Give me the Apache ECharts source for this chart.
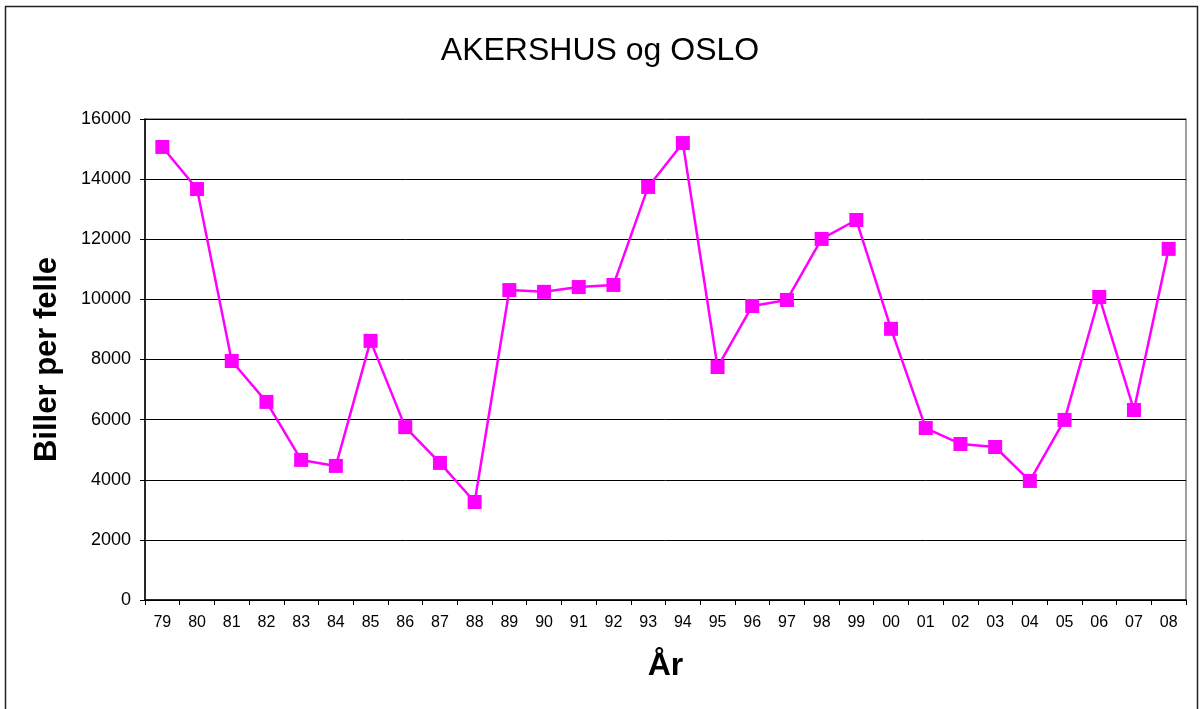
<!DOCTYPE html>
<html>
<head>
<meta charset="utf-8">
<script src="https://cdn.jsdelivr.net/npm/echarts@6/dist/echarts.min.js"></script>
<style>
  html, body { margin: 0; padding: 0; background: #fff; }
  #chart { width: 1200px; height: 709px; }
</style>
</head>
<body>
<div id="chart"></div>
<script>
// år (kategorier)
const years = ['79', '80', '81', '82', '83', '84', '85', '86', '87', '88',
  '89', '90', '91', '92', '93', '94', '95', '96', '97', '98',
  '99', '00', '01', '02', '03', '04', '05', '06', '07', '08'];

// biller per felle, lest av figuren
const beetles = [15070, 13670, 7950, 6590, 4660, 4460, 8620, 5750, 4560, 3260,
  10310, 10250, 10410, 10480, 13740, 15200, 7750, 9780, 9980, 12010,
  12640, 9020, 5720, 5190, 5090, 3960, 5990, 10080, 6320, 11680];

const yTicks = { min: 0, max: 16000, interval: 2000 };

const chart = echarts.init(document.getElementById('chart'));
const font = 'Liberation Sans, Arial, sans-serif';

const option = {
  backgroundColor: '#fff',
  animation: false,
  title: {
    text: 'AKERSHUS og OSLO',
    left: 'center',
    top: 30,
    textStyle: { fontFamily: font, fontSize: 32, fontWeight: 'normal', color: '#000' }
  },
  graphic: [
    {
      // ytre ramme
      type: 'rect',
      shape: { x: 5.5, y: 6.5, width: 1192, height: 730 },
      style: { fill: 'none', stroke: '#222', lineWidth: 1.5 },
      z: 10
    }
  ],
  grid: {
    left: 145,
    right: 14,
    top: 119,
    bottom: 109,
    show: true,
    borderColor: '#808080',
    borderWidth: 1.5
  },
  xAxis: {
    type: 'category',
    data: years,
    boundaryGap: true,
    name: 'År',
    nameLocation: 'middle',
    nameGap: 50,
    nameTextStyle: { fontFamily: font, fontSize: 32, fontWeight: 'bold', color: '#000' },
    axisLine: { lineStyle: { color: '#000', width: 1.5 } },
    axisTick: { show: true, length: 5, alignWithLabel: false, lineStyle: { color: '#000' } },
    axisLabel: { fontFamily: font, fontSize: 16, color: '#000', margin: 15, interval: 0 },
    splitLine: { show: false }
  },
  yAxis: {
    type: 'value',
    min: yTicks.min,
    max: yTicks.max,
    interval: yTicks.interval,
    name: 'Biller per felle',
    nameLocation: 'middle',
    nameGap: 82,
    nameTextStyle: { fontFamily: font, fontSize: 31, fontWeight: 'bold', color: '#000' },
    axisLine: { show: true, lineStyle: { color: '#000', width: 1.5 } },
    axisTick: { show: true, length: 5, lineStyle: { color: '#000' } },
    axisLabel: { fontFamily: font, fontSize: 18, color: '#000', margin: 14, formatter: v => String(v) },
    splitLine: { show: true, lineStyle: { color: '#000', width: 1 } }
  },
  series: [
    {
      name: 'Biller per felle',
      type: 'line',
      data: beetles,
      symbol: 'rect',
      symbolSize: 14,
      lineStyle: { color: '#ff00ff', width: 2.5 },
      itemStyle: { color: '#ff00ff' }
    }
  ]
};

chart.setOption(option);
</script>
</body>
</html>
